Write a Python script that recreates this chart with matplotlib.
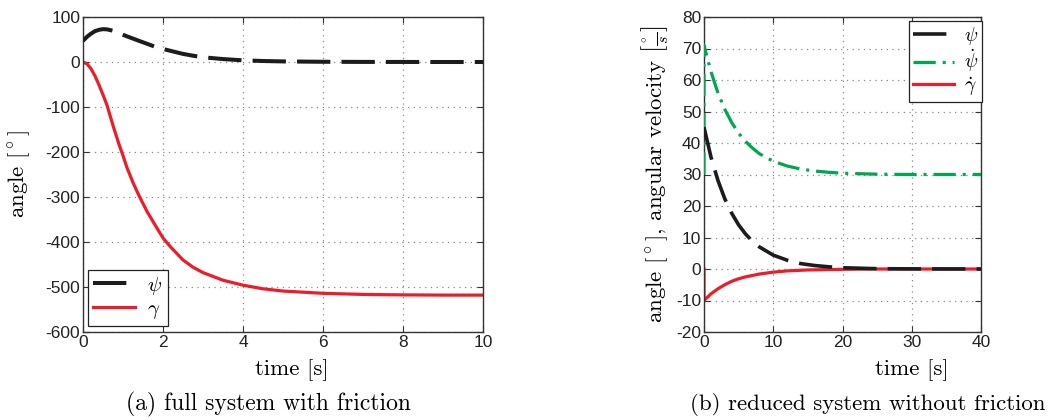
import matplotlib
matplotlib.use("Agg")
import matplotlib.pyplot as plt
import numpy as np

plt.rcParams['mathtext.fontset'] = 'cm'
plt.rcParams['lines.scale_dashes'] = False

# ---------------- data: (a) full system with friction ----------------
t_a = [0, 0.1, 0.2, 0.3, 0.4, 0.5, 0.6, 0.75, 0.9, 1.0, 1.1, 1.25, 1.4, 1.6,
       1.8, 2.0, 2.2, 2.5, 2.75, 3.0, 3.5, 4.0, 4.5, 5.0, 6.0, 7.0, 8.0, 9.0, 10.0]
psi_a = [47, 56, 63, 68.5, 71.5, 73, 72.5, 69.5, 64.5, 60.5, 57, 52, 47, 40.5,
         34, 29, 24.5, 18, 14, 10.5, 6.5, 3.7, 2.2, 1.3, 0.5, 0.2, 0.1, 0, 0]
gamma_a = [0, -4, -15, -31, -51, -73, -96, -141, -183, -208, -235, -268, -297, -332,
           -362, -391, -412, -440, -456, -468, -485, -496, -504, -509, -514, -516.5,
           -517.5, -518, -518]

# ---------------- data: (b) reduced system without friction ----------------
t_psi_b = [0, 1, 2, 3, 4, 5, 6, 7, 8, 10, 12, 14, 16, 18, 20, 25, 30, 40]
psi_b = [45, 35.6, 28.2, 22.3, 17.7, 14.0, 11.1, 8.8, 7.0, 4.4, 2.8, 1.7, 1.1,
         0.7, 0.4, 0.1, 0.04, 0]
t_dpsi_b = [0, 0, 1, 2, 3, 4, 5, 6, 7, 8, 10, 12, 14, 16, 18, 20, 25, 30, 40]
dpsi_b = [30, 71, 62.7, 56.0, 50.7, 46.5, 43.1, 40.5, 38.4, 36.6, 34.2, 32.7,
          31.7, 31.1, 30.7, 30.4, 30.1, 30, 30]
t_dgamma_b = [0, 0, 1, 2, 3, 4, 5, 6, 8, 10, 12, 15, 20, 25, 30, 40]
dgamma_b = [0, -10, -7.9, -6.3, -5.0, -3.9, -3.1, -2.5, -1.6, -1.0, -0.6, -0.3,
            -0.1, 0, 0, 0]

xticks_a = [0, 2, 4, 6, 8, 10]
yticks_a = [100, 0, -100, -200, -300, -400, -500, -600]
xticks_b = [0, 10, 20, 30, 40]
yticks_b = [80, 70, 60, 50, 40, 30, 20, 10, 0, -10, -20]

BLACK = '#1c1c1c'
RED = '#ec1c2a'
GREEN = '#00a650'
W, H = 1048, 420

fig = plt.figure(figsize=(W / 100, H / 100), dpi=100)

tickfont = dict(family='Liberation Sans', size=12.5)
serif = 'cmr10'


def style_axes(ax, xt, yt, xlim, ylim):
    ax.set_xlim(*xlim)
    ax.set_ylim(*ylim)
    ax.set_xticks(xt)
    ax.set_yticks(yt)
    ax.set_xticklabels([str(v) for v in xt], fontdict=tickfont)
    ax.set_yticklabels([str(v) for v in yt], fontdict=tickfont)
    ax.tick_params(direction='in', length=4, width=0.8, top=True, right=True,
                   colors='#333333', pad=2)
    for lab in ax.get_xticklabels() + ax.get_yticklabels():
        lab.set_color('#222222')
    for s in ax.spines.values():
        s.set_color('#333333')
        s.set_linewidth(1.0)
    ax.grid(True, color='#8a8a8a', linestyle=(0, (0.9, 3.2)), linewidth=0.9)
    ax.set_axisbelow(True)


# ---------------- (a) ----------------
axa = fig.add_axes([83 / W, 1 - 332 / H, 400 / W, 315 / H])
la1, = axa.plot(t_a, psi_a, color=BLACK, lw=2.9, dashes=(24, 8), label=r'$\psi$',
                zorder=3)
la2, = axa.plot(t_a, gamma_a, color=RED, lw=2.3, label=r'$\gamma$', zorder=2)
style_axes(axa, xticks_a, yticks_a, (0, 10), (-600, 100))
lega = axa.legend(handles=[la1, la2], loc='lower left',
                  bbox_to_anchor=(88 / W, 1 - 326 / H), bbox_transform=fig.transFigure,
                  fancybox=False, framealpha=1, edgecolor='#222222',
                  prop={'size': 15}, handlelength=2.0, borderaxespad=0,
                  borderpad=0.25, labelspacing=0.05, handletextpad=0.6)
lega.get_frame().set_linewidth(0.9)

# ---------------- (b) ----------------
axb = fig.add_axes([704 / W, 1 - 332 / H, 277 / W, 315 / H])
lb3, = axb.plot(t_dgamma_b, dgamma_b, color=RED, lw=2.3, label=r'$\dot{\gamma}$',
                zorder=2)
lb2, = axb.plot(t_dpsi_b, dpsi_b, color=GREEN, lw=2.3, dashes=(16, 5, 2.2, 5),
                label=r'$\dot{\psi}$', zorder=3)
lb1, = axb.plot(t_psi_b, psi_b, color=BLACK, lw=2.6, dashes=(24, 8),
                label=r'$\psi$', zorder=4)
style_axes(axb, xticks_b, yticks_b, (0, 40), (-20, 80))
legb = axb.legend(handles=[lb1, lb2, lb3], loc='upper right',
                  bbox_to_anchor=(982 / W, 1 - 21 / H), bbox_transform=fig.transFigure,
                  fancybox=False, framealpha=1, edgecolor='#222222',
                  prop={'size': 14}, handlelength=2.1, borderaxespad=0,
                  borderpad=0.2, labelspacing=0.05, handletextpad=0.5)
legb.get_frame().set_linewidth(0.9)

# ---------------- labels ----------------
fig.text(20 / W, 1 - 174 / H, r'angle [$^\circ$]', rotation=90, ha='center',
         va='center', family=serif, size=16.5)
fig.text(655 / W, 1 - 174 / H,
         r'angle [$^\circ$], angular velocity $\left[\frac{^\circ}{s}\right]$',
         rotation=90, ha='center', va='center', family=serif, size=16.5)
fig.text(292 / W, 1 - 370 / H, 'time [s]', ha='center', va='center',
         family=serif, size=16.5)
fig.text(912 / W, 1 - 370 / H, 'time [s]', ha='center', va='center',
         family=serif, size=16.5)
fig.text(268 / W, 1 - 404 / H, '(a) full system with friction', ha='center',
         va='center', family=serif, size=17)
fig.text(1045 / W, 1 - 405 / H, '(b) reduced system without friction',
         ha='right', va='center', family=serif, size=16.5)

fig.savefig('out.png', dpi=100)
